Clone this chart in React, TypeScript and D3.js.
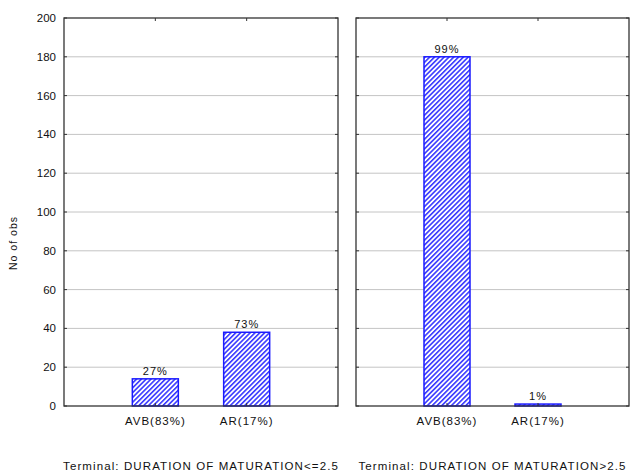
import React from "react";
import * as d3 from "d3";

const categories = ["AVB(83%)", "AR(17%)"];
const panelTitles = [
  "Terminal: DURATION OF MATURATION<=2.5",
  "Terminal: DURATION OF MATURATION>2.5",
];
const leftValues = [14, 38];
const rightValues = [180, 1];
const leftPct = ["27%", "73%"];
const rightPct = ["99%", "1%"];
const yTicks = [0, 20, 40, 60, 80, 100, 120, 140, 160, 180, 200];

const W = 632;
const H = 473;
const top = 18;
const bottom = 406;
const panels = [
  { x0: 64, x1: 338, values: leftValues, pct: leftPct, title: panelTitles[0] },
  { x0: 356, x1: 629, values: rightValues, pct: rightPct, title: panelTitles[1] },
];

export default function App() {
  const y = d3.scaleLinear().domain([0, 200]).range([bottom, top]);
  const font = "Arial, 'Liberation Sans', sans-serif";
  return (
    <svg
      width={W}
      height={H}
      style={{ position: "absolute", left: 0, top: 0, background: "#fff" }}
      fontFamily={font}
    >
      <defs>
        <pattern
          id="hatch"
          patternUnits="userSpaceOnUse"
          width={3.4}
          height={3.4}
          patternTransform="rotate(45)"
        >
          <rect width={3.4} height={3.4} fill="#fff" />
          <line x1={0.8} y1={0} x2={0.8} y2={3.4} stroke="#2a2aff" strokeWidth={1.5} />
        </pattern>
      </defs>
      <rect width={W} height={H} fill="#fff" />
      {panels.map((p, pi) => {
        const x = d3
          .scalePoint<string>()
          .domain(categories)
          .range([p.x0, p.x1])
          .padding(1);
        const bw = 46;
        return (
          <g key={pi}>
            {yTicks
              .filter((t) => t > 0 && t < 200)
              .map((t) => (
                <line
                  key={t}
                  x1={p.x0}
                  x2={p.x1}
                  y1={y(t)}
                  y2={y(t)}
                  stroke="#c4c4c4"
                  strokeWidth={1}
                />
              ))}
            {yTicks.map((t) => (
              <g key={"tk" + t}>
                <line x1={p.x0} x2={p.x0 + 3} y1={y(t)} y2={y(t)} stroke="#333" />
                <line x1={p.x1 - 3} x2={p.x1} y1={y(t)} y2={y(t)} stroke="#333" />
              </g>
            ))}
            {categories.map((c, i) => {
              const cx = x(c)!;
              const v = p.values[i];
              return (
                <g key={c}>
                  <rect
                    x={cx - bw / 2}
                    y={y(v)}
                    width={bw}
                    height={y(0) - y(v)}
                    fill="url(#hatch)"
                    stroke="#1a1aff"
                    strokeWidth={1.5}
                  />
                  <text
                    x={cx}
                    y={y(v) - 4}
                    textAnchor="middle"
                    fontSize={11}
                    letterSpacing={1}
                    fill="#111"
                  >
                    {p.pct[i]}
                  </text>
                  <line x1={cx} x2={cx} y1={top} y2={top + 3} stroke="#333" />
                  <line x1={cx} x2={cx} y1={bottom - 3} y2={bottom} stroke="#333" />
                  <text
                    x={cx}
                    y={bottom + 19}
                    textAnchor="middle"
                    fontSize={11.5}
                    letterSpacing={1}
                    fill="#111"
                  >
                    {c}
                  </text>
                </g>
              );
            })}
            <rect
              x={p.x0}
              y={top}
              width={p.x1 - p.x0}
              height={bottom - top}
              fill="none"
              stroke="#333"
              strokeWidth={1.3}
            />
            <text
              x={(p.x0 + p.x1) / 2}
              y={470}
              textAnchor="middle"
              fontSize={11.5}
              letterSpacing={1.1}
              fill="#111"
            >
              {p.title}
            </text>
          </g>
        );
      })}
      {yTicks.map((t) => (
        <text
          key={"yl" + t}
          x={56}
          y={y(t)}
          dy="0.35em"
          textAnchor="end"
          fontSize={11.5}
          fill="#111"
        >
          {t}
        </text>
      ))}
      <text
        transform={`translate(17,243) rotate(-90)`}
        textAnchor="middle"
        fontSize={10.5}
        letterSpacing={1}
        fill="#111"
      >
        No of obs
      </text>
    </svg>
  );
}
